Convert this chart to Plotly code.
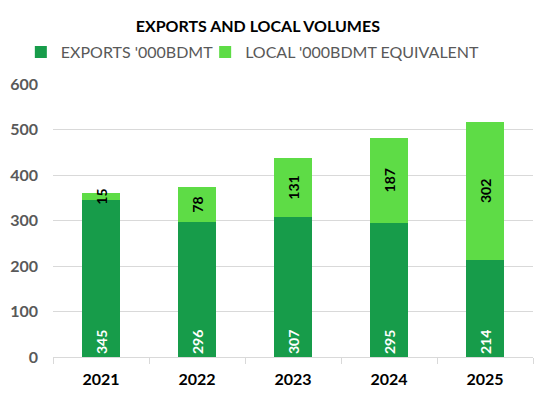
import plotly.graph_objects as go

years = ['2021', '2022', '2023', '2024', '2025']
exports = [345, 296, 307, 295, 214]
local = [15, 78, 131, 187, 302]

dark_green = '#179C4A'
light_green = '#5EDC46'
font_family = 'Lato, Open Sans, sans-serif'

fig = go.Figure()

fig.add_trace(go.Bar(
    x=years, y=exports,
    name="EXPORTS '000BDMT",
    legend='legend',
    marker=dict(color=dark_green, line=dict(width=0)),
    text=exports,
    textposition='inside',
    insidetextanchor='start',
    textangle=-90,
    textfont=dict(color='white', size=14, family=font_family, weight='bold'),
    cliponaxis=False,
))

fig.add_trace(go.Bar(
    x=years, y=local,
    name="LOCAL '000BDMT EQUIVALENT",
    legend='legend2',
    marker=dict(color=light_green, line=dict(width=0)),
    text=local,
    textposition='inside',
    insidetextanchor='middle',
    textangle=-90,
    constraintext='none',
    textfont=dict(color='black', size=14, family=font_family, weight='bold'),
    cliponaxis=False,
))

legend_style = dict(
    orientation='h',
    xanchor='left',
    y=1.117, yanchor='middle',
    font=dict(size=16, color='#595959', family=font_family),
    bgcolor='rgba(0,0,0,0)',
)

# the page body adds an 8px offset, so the figure is 8px smaller each way
fig.update_layout(
    barmode='stack',
    bargap=0.6,
    width=542, height=392,
    margin=dict(l=45, r=17, t=76, b=43, autoexpand=False),
    paper_bgcolor='white',
    plot_bgcolor='white',
    font=dict(family=font_family, color='#595959'),
    title=dict(
        text='<b>EXPORTS AND LOCAL VOLUMES</b>',
        x=0.461, xanchor='center',
        y=0.953, yanchor='middle',
        font=dict(size=16, color='black', family=font_family),
    ),
    legend=dict(legend_style, x=-0.067),
    legend2=dict(legend_style, x=0.317),
    showlegend=True,
)

fig.update_xaxes(
    automargin=False,
    showgrid=False,
    showline=True, linecolor='#D9D9D9', linewidth=1,
    ticks='outside', tickson='boundaries', ticklen=6, tickcolor='#D9D9D9',
    ticklabelstandoff=8,
    tickfont=dict(size=16, color='black', family=font_family, weight='bold'),
)

fig.update_yaxes(
    automargin=False,
    range=[0, 600],
    dtick=100,
    showgrid=True, gridcolor='#D9D9D9', gridwidth=1,
    zeroline=False,
    showline=False,
    ticklabelstandoff=14,
    tickfont=dict(size=16, color='#595959', family=font_family, weight='bold'),
)

fig.write_html('out.html')
